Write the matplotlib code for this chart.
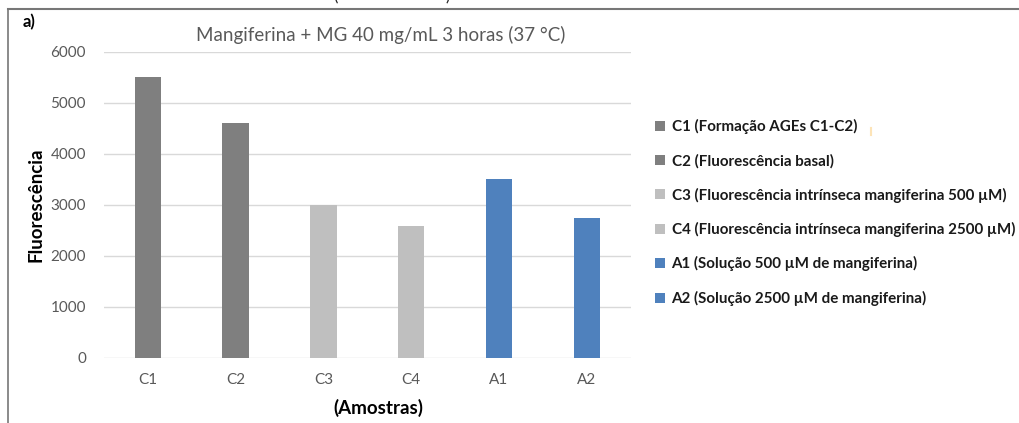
import matplotlib
matplotlib.use("Agg")
import matplotlib.pyplot as plt
from matplotlib.lines import Line2D

plt.rcParams['font.family'] = ['Lato', 'DejaVu Sans']

samples = ["C1", "C2", "C3", "C4", "A1", "A2"]
values = [5500, 4600, 3000, 2590, 3515, 2740]
labels = [
    "C1 (Formação AGEs C1-C2)",
    "C2 (Fluorescência basal)",
    "C3 (Fluorescência intrínseca mangiferina 500 µM)",
    "C4 (Fluorescência intrínseca mangiferina 2500 µM)",
    "A1 (Solução 500 µM de mangiferina)",
    "A2 (Solução 2500 µM de mangiferina)",
]
colors = ["#7f7f7f", "#7f7f7f", "#bfbfbf", "#bfbfbf", "#4f81bd", "#4f81bd"]

fig = plt.figure(figsize=(10.19, 4.23), dpi=100)
ax = fig.add_axes([0.102, 0.1537, 0.517, 0.7241])

for i, (s, v, lab, c) in enumerate(zip(samples, values, labels, colors)):
    ax.bar(i, v, width=0.3, color=c, label=lab, zorder=3)

ax.set_xlim(-0.5, len(samples) - 0.5)
ax.set_ylim(0, 6000)
ax.set_yticks(range(0, 6001, 1000))
ax.set_xticks(range(len(samples)))
ax.set_xticklabels(samples)
ax.grid(axis="y", color="#d9d9d9", lw=1, zorder=0)
for sp in ax.spines.values():
    sp.set_visible(False)
ax.tick_params(axis="both", length=0, colors="#595959", labelsize=11)
ax.tick_params(axis="x", pad=11)
ax.tick_params(axis="y", pad=13)

ax.set_title("Mangiferina + MG 40 mg/mL 3 horas (37 °C)", color="#595959",
             fontsize=13.5, pad=8, x=0.526)
ax.set_ylabel("Fluorescência", fontsize=13.5, fontweight="bold")
ax.yaxis.set_label_coords(-0.112, 0.5)
ax.set_xlabel("(Amostras)", fontsize=13.5, fontweight="bold")
ax.xaxis.set_label_coords(0.52, -0.135)

leg = ax.legend(loc="upper left", bbox_to_anchor=(1.02, 0.824), frameon=False,
                handlelength=0.65, handleheight=0.65, handletextpad=0.45,
                labelspacing=1.28, fontsize=10.9)
for t in leg.get_texts():
    t.set_fontweight("bold")
    t.set_color("#1a1a1a")

fig.text(0.022, 0.948, "a)", fontsize=12, fontweight="bold", va="center")

# frame lines of the cropped figure
fig.add_artist(Line2D([0.0078, 1.0], [0.978, 0.978], color="#777777", lw=1.5))
fig.add_artist(Line2D([0.0078, 0.0078], [0.0, 0.978], color="#777777", lw=1.2))
# clipped parentheses of text above the frame
fig.text(0.327, 0.99, "(", fontsize=12, va="bottom", color="#222222")
fig.text(0.437, 0.99, ")", fontsize=12, va="bottom", color="#222222")
fig.add_artist(Line2D([0.8548, 0.8548], [0.682, 0.697], color="#fde4b8", lw=1.5))

fig.savefig("out.png", dpi=100)
